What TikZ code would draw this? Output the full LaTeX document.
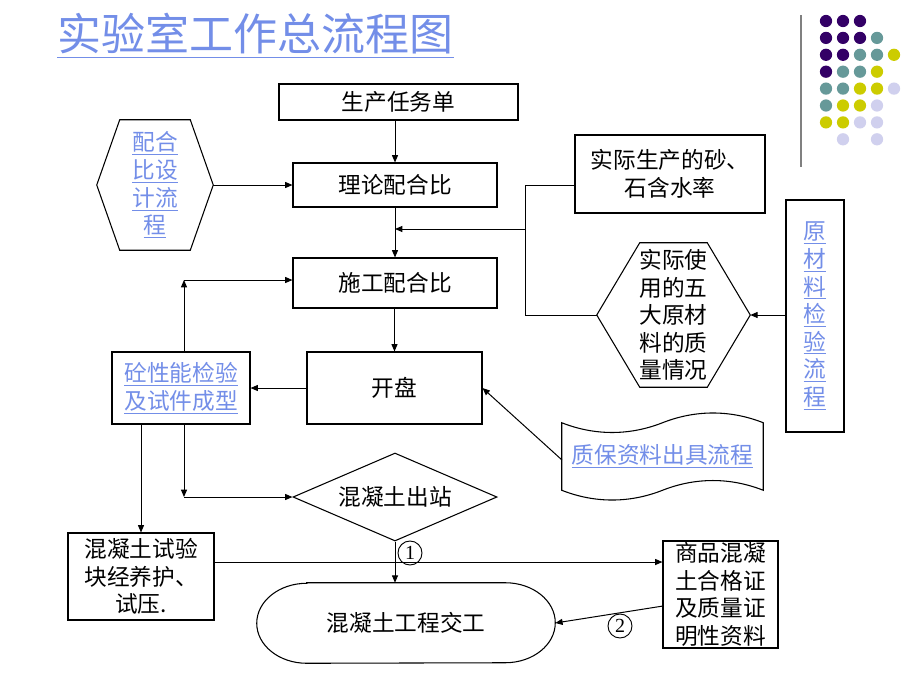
\documentclass[tikz,border=0pt]{standalone}
\usepackage{fontspec}
\setmainfont{Noto Sans CJK SC}
\newfontfamily\digitfont{Liberation Serif}
\usetikzlibrary{arrows.meta,shapes.geometric}
\definecolor{linkblue}{RGB}{115,142,232}
\definecolor{dP}{RGB}{51,0,102}
\definecolor{dT}{RGB}{102,153,153}
\definecolor{dY}{RGB}{204,204,0}
\definecolor{dL}{RGB}{208,208,238}
\newcommand\bodyfont{\fontsize{17}{20.7}\selectfont}
\newcommand\lk[1]{\underline{#1}}
\begin{document}
\begin{tikzpicture}[x=0.75pt,y=-0.75pt,
  box/.style={draw, line width=0.8pt, inner sep=0pt, align=center, font=\bodyfont},
  plain/.style={inner sep=0pt, align=center, font=\bodyfont},
  shapeline/.style={draw, line width=0.8pt},
  conn/.style={line width=0.75pt},
  arr/.style={conn, -{Triangle[length=5.5pt,width=4.5pt]}},
  num/.style={circle, draw, line width=0.7pt, minimum size=18pt, inner sep=0pt, font=\digitfont\fontsize{15}{15}\selectfont},
  dot/.style={radius=4.6pt}]
\useasboundingbox[fill=white] (0,0) rectangle (920,690);

% title
\node[anchor=base west, inner sep=0pt, text=linkblue, font=\fontsize{33}{40}\selectfont] (title) at (57,50) {实验室工作总流程图};
\draw[linkblue, line width=1.1pt] ([yshift=-5.5pt]title.base west) -- ([yshift=-5.5pt]title.base east);

% decoration
\draw[gray, line width=1.5pt] (801,15) -- (801,167);
\foreach \c/\r/\k in {0/0/dP,1/0/dP,2/0/dP,
  0/1/dP,1/1/dP,2/1/dP,3/1/dT,
  0/2/dP,1/2/dP,2/2/dT,3/2/dT,4/2/dY,
  0/3/dP,1/3/dT,2/3/dT,3/3/dY,
  0/4/dT,1/4/dT,2/4/dY,3/4/dY,4/4/dL,
  0/5/dT,1/5/dY,2/5/dY,3/5/dL,
  0/6/dY,1/6/dY,2/6/dL,3/6/dL,
  1/7/dL,3/7/dL}
  \fill[\k] (826+17*\c,21+16.9*\r) circle[dot];

% nodes
\node[box, minimum width=179.25pt, minimum height=27pt] (task) at (398.5,102) {生产任务单};
\node[box, minimum width=153pt, minimum height=33pt] (theory) at (395,185) {理论配合比};
\node[box, minimum width=153pt, minimum height=37.5pt] (construct) at (395,283) {施工配合比};
\node[box, minimum width=131.25pt, minimum height=54pt] (mix) at (394.5,388) {开盘};
\node[box, minimum width=103.5pt, minimum height=54pt, text=linkblue] (test) at (181,388) {\lk{砼性能检验}\\\lk{及试件成型}};
\node[box, minimum width=142.5pt, minimum height=58.5pt] (sand) at (670,174) {实际生产的砂、\\石含水率};
\node[box, minimum width=43.5pt, minimum height=174pt, text=linkblue] (raw) at (815,316) {\lk{原}\\\lk{材}\\\lk{料}\\\lk{检}\\\lk{验}\\\lk{流}\\\lk{程}};
\node[box, minimum width=109.5pt, minimum height=65.25pt] (cure) at (141,576.5) {混凝土试验\\块经养护、\\试压.};
\node[box, minimum width=86.25pt, minimum height=80.25pt] (cert) at (720.5,594.5) {商品混凝\\土合格证\\及质量证\\明性资料};
\node[draw, diamond, aspect=2.3, minimum width=153pt, minimum height=66pt, inner sep=0pt, line width=0.8pt, font=\bodyfont] (out) at (395,497) {混凝土出站};

\node[plain, minimum width=87pt, minimum height=97.5pt, text=linkblue] (design) at (155,185) {\lk{配合}\\\lk{比设}\\\lk{计流}\\\lk{程}};
\draw[shapeline] (design.west) -- ([xshift=17.25pt]design.north west) -- ([xshift=-17.25pt]design.north east) -- (design.east) -- ([xshift=-17.25pt]design.south east) -- ([xshift=17.25pt]design.south west) -- cycle;

\node[plain, minimum width=114.75pt, minimum height=108pt] (hexmat) at (673.5,315) {实际使\\用的五\\大原材\\料的质\\量情况};
\draw[shapeline] (hexmat.west) -- ([xshift=32.25pt]hexmat.north west) -- ([xshift=-32.25pt]hexmat.north east) -- (hexmat.east) -- ([xshift=-32.25pt]hexmat.south east) -- ([xshift=32.25pt]hexmat.south west) -- cycle;

\node[plain, minimum width=150.75pt, minimum height=50.25pt, text=linkblue] (qa) at (662.5,456.5) {\lk{质保资料出具流程}};
\draw[shapeline] (qa.north west) .. controls +(33,13) and +(-33,13) .. (qa.north)
  .. controls +(33,-13) and +(-33,-13) .. (qa.north east) -- (qa.south east)
  .. controls +(-33,-13) and +(33,-13) .. (qa.south)
  .. controls +(-33,13) and +(33,13) .. (qa.south west) -- cycle;

\node[plain, minimum width=223.5pt, minimum height=60pt] (done) at (406,623) {混凝土工程交工};
\draw[shapeline] ([xshift=37.5pt]done.north west) -- ([xshift=-37.5pt]done.north east)
  arc[start angle=90, end angle=-90, x radius=37.5pt, y radius=30pt]
  -- ([xshift=37.5pt]done.south west)
  arc[start angle=270, end angle=90, x radius=37.5pt, y radius=30pt] -- cycle;

% connectors
\draw[arr] (theory.north |- task.south) -- (theory.north);
\draw[arr] (design.east) -- (theory.west);
\draw[arr] (theory.south) -- (construct.north);
\coordinate (jA) at (525,185);
\draw[conn] (sand.west |- jA) -- (jA) -- (jA |- hexmat.west) -- (hexmat.west);
\coordinate (jB) at (525,229);
\draw[arr] (jB) -- (jB -| theory.south);
\draw[arr] (raw.west |- hexmat.east) -- (hexmat.east);
\draw[arr] (construct.south -| mix.north) -- (mix.north);
\draw[arr] (mix.west) -- (test.east);
\coordinate (cA) at (184,280);
\draw[arr] (test.north -| cA) -- (cA);
\draw[arr] (cA) -- (cA -| construct.west);
\coordinate (cB) at (184,497);
\draw[arr] (test.south -| cB) -- (cB);
\draw[arr] (cB) -- (out.west);
\draw[arr] (test.south -| cure.north) -- (cure.north);
\draw[arr] (out.south) -- (out.south |- done.north);
\coordinate (hA) at (214,562);
\draw[arr] (hA) -- (hA -| cert.west);
\coordinate (hB) at (663,606);
\draw[arr] (hB) -- (done.east);
\coordinate (qA) at (562,460);
\draw[arr] (qA) -- (mix.east);

\node[num] (n1) at (410,553) {1};
\node[num] (n2) at (620,626) {2};
\end{tikzpicture}
\end{document}
